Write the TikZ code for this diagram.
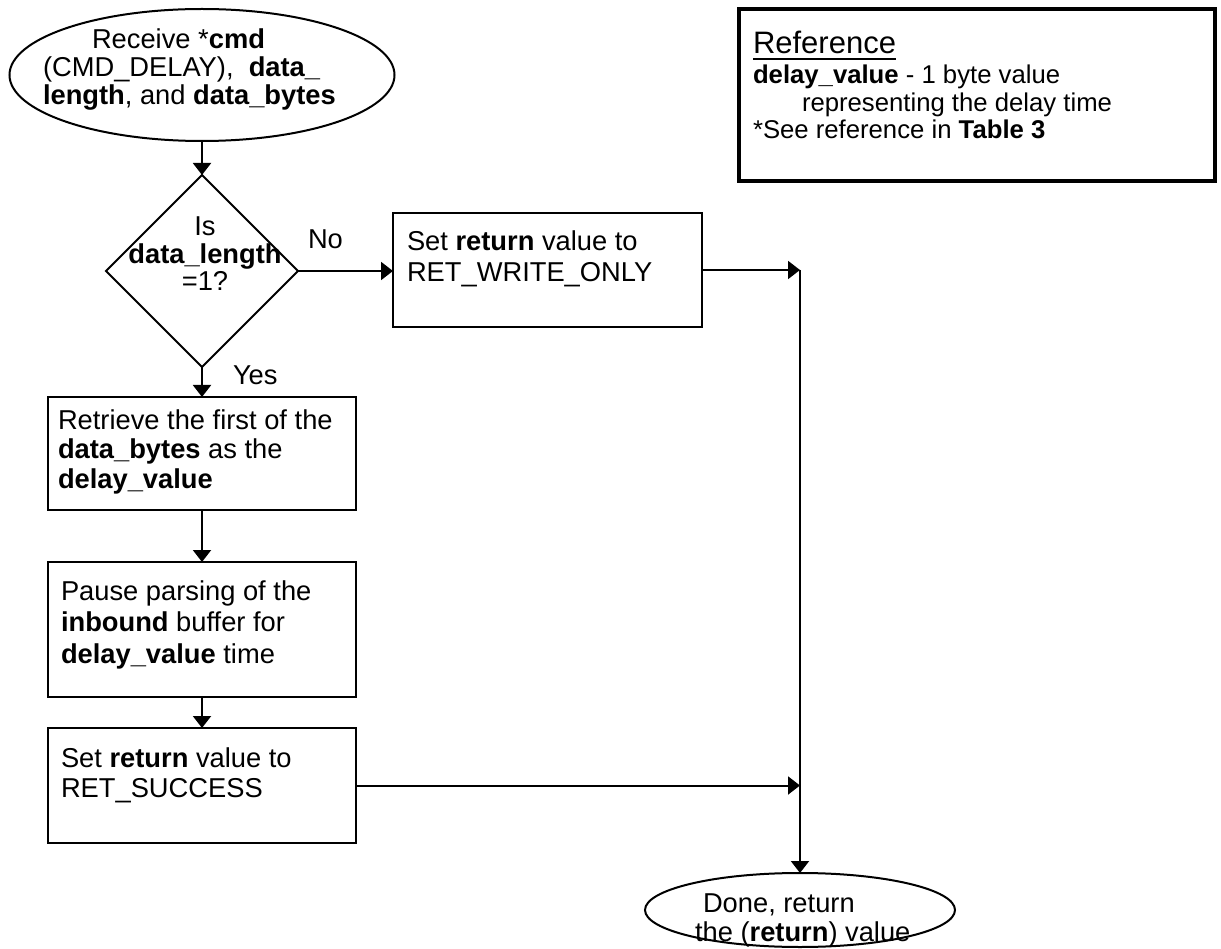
\documentclass[tikz,border=0pt]{standalone}
\usepackage{fontspec}
\setmainfont{Liberation Sans}
\usetikzlibrary{shapes.geometric,arrows.meta}

% font sizes
\newcommand\bodyfont{\fontsize{27.3pt}{30pt}\selectfont}
\newcommand\headfont{\fontsize{31pt}{34pt}\selectfont}
\newcommand\reffont{\fontsize{25.7pt}{28pt}\selectfont}
% multi-line text whose baseline is that of its first line
\newcommand\txtL[2]{\vtop{\baselineskip=#1\relax\lineskiplimit=-100pt\halign{##\hfil\cr#2\crcr}}}
\newcommand\txtC[2]{\vtop{\baselineskip=#1\relax\lineskiplimit=-100pt\halign{\hfil##\hfil\cr#2\crcr}}}

\begin{document}
\begin{tikzpicture}[x=1pt,y=-1pt,line width=2pt,
  every node/.style={inner sep=0pt,outer sep=0pt,font=\bodyfont},
  box/.style={draw,rectangle,anchor=north west},
  term/.style={draw,ellipse},
  decision/.style={draw,diamond},
  txt/.style={anchor=base west},
  flow/.style={-{Triangle[length=12pt,width=18pt]}}]
\useasboundingbox (0,0) rectangle (1221,949);

% start terminal
\node[term,minimum width=385pt,minimum height=132pt] (start) at (202,75) {};
\node[txt] (starttxt) at (43,49) {\txtL{28pt}{\hskip49pt Receive *\textbf{cmd}\cr
  (CMD\_DELAY),\ \ \textbf{data\_}\cr
  \textbf{length}, and \textbf{data\_bytes}}};

% decision
\node[decision,minimum width=192pt,minimum height=192pt] (dec) at (202,271) {};
\node[anchor=base] (dectxt) at (205,236) {\txtC{27.5pt}{Is\cr \textbf{data\_length}\cr =1?}};
\node[txt] (nolbl) at (308,249) {No};
\node[txt] (yeslbl) at (233,385) {Yes};

% write-only branch
\node[box,minimum width=309pt,minimum height=114pt] (wo) at (393,213) {};
\node[txt] (wotxt) at (407,251) {\txtL{31pt}{Set \textbf{return} value to\cr RET\_WRITE\_ONLY}};

% main sequence
\node[box,minimum width=308pt,minimum height=113pt] (b1) at (48,397) {};
\node[txt] (b1txt) at (58,429) {\txtL{29.5pt}{Retrieve the first of the\cr
  \textbf{data\_bytes} as the\cr \textbf{delay\_value}}};

\node[box,minimum width=308pt,minimum height=135pt] (b2) at (48,562) {};
\node[txt] (b2txt) at (61,600) {\txtL{31.5pt}{Pause parsing of the\cr
  \textbf{inbound} buffer for\cr \textbf{delay\_value} time}};

\node[box,minimum width=308pt,minimum height=115pt] (b3) at (48,728) {};
\node[txt] (b3txt) at (61,767) {\txtL{30pt}{Set \textbf{return} value to\cr RET\_SUCCESS}};

% end terminal
\node[term,minimum width=310pt,minimum height=74pt] (done) at (800,910) {};
\node[txt] (donetxt) at (695,912) {\txtL{29.5pt}{\hskip8pt Done, return\cr the (\textbf{return}) value}};

% reference box
\node[box,line width=3.5pt,minimum width=476pt,minimum height=172pt] (ref) at (739,9) {};
\node[txt,font=\headfont] (refhead) at (753,54) {Reference};
\draw[line width=2pt] ([yshift=-5pt]refhead.base west) -- ([yshift=-5pt]refhead.base east);
\node[txt,font=\reffont] (refbody) at (753,84) {\txtL{27.5pt}{\textbf{delay\_value} - 1 byte value\cr
  \hskip49pt representing the delay time\cr
  *See reference in \textbf{Table 3}}};

% connectors
\coordinate (j1) at (wo.east -| done.north);
\draw[flow] (start.south) -- (dec.north);
\draw[flow] (dec.east) -- (dec.east -| wo.west);
\draw[flow] (wo.east) -- (j1);
\draw[flow] (j1) -- (done.north);
\draw[flow] (dec.south) -- (b1.north);
\draw[flow] (b1.south) -- (b2.north);
\draw[flow] (b2.south) -- (b3.north);
\draw[flow] (b3.east) -- (b3.east -| j1);
\end{tikzpicture}
\end{document}
